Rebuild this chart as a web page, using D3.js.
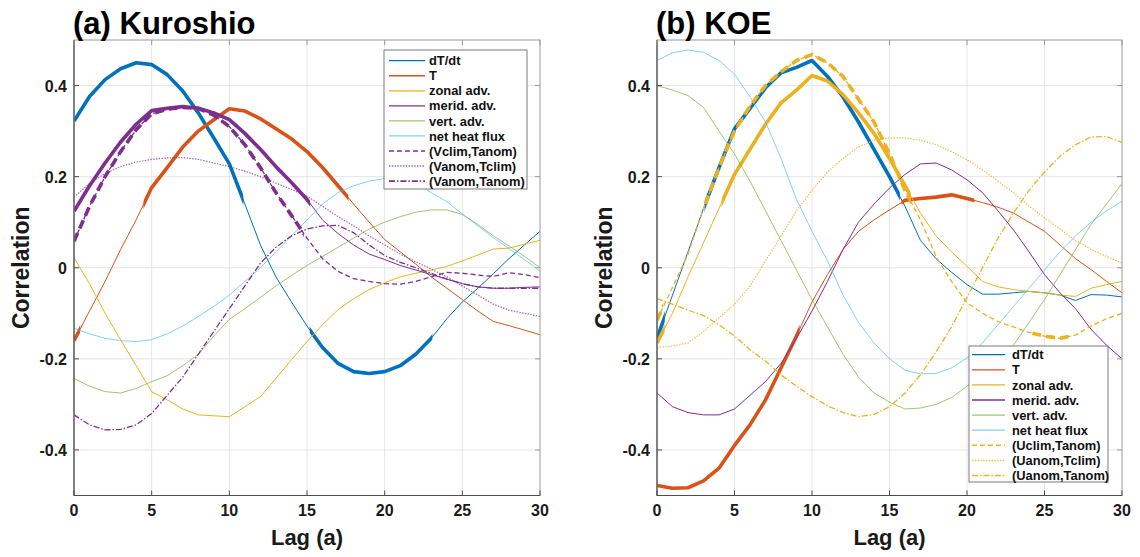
<!DOCTYPE html>
<html>
<head>
<meta charset="utf-8">
<script src="https://cdn.jsdelivr.net/npm/d3@7"></script>
<style>
  body { margin: 0; background: #fff; }
  svg { display: block; font-family: "Liberation Sans", Arial, Helvetica, sans-serif; }
</style>
</head>
<body>
<svg id="chart" width="1140" height="557"></svg>
<script>
// Lag axis (years)
const lags = [0,1,2,3,4,5,6,7,8,9,10,11,12,13,14,15,16,17,18,19,20,21,22,23,24,25,26,27,28,29,30];
const xTicks = [0, 5, 10, 15, 20, 25, 30];
const yTicks = [-0.4, -0.2, 0, 0.2, 0.4];

// (a) Kuroshio: lagged correlations
const kuroDTdt = [0.322,0.376,0.413,0.437,0.45,0.446,0.424,0.388,0.34,0.285,0.228,0.14,0.05,-0.02,-0.075,-0.128,-0.175,-0.21,-0.228,-0.232,-0.228,-0.215,-0.19,-0.155,-0.112,-0.075,-0.045,-0.013,0.02,0.05,0.08];
const kuroT = [-0.16,-0.095,-0.03,0.04,0.105,0.176,0.22,0.265,0.3,0.325,0.349,0.344,0.327,0.305,0.283,0.255,0.22,0.18,0.14,0.1,0.062,0.035,0.008,-0.02,-0.045,-0.07,-0.095,-0.118,-0.127,-0.137,-0.147];
const kuroZonal = [0.022,-0.035,-0.1,-0.158,-0.215,-0.272,-0.29,-0.31,-0.323,-0.325,-0.327,-0.305,-0.283,-0.243,-0.202,-0.162,-0.125,-0.092,-0.068,-0.048,-0.033,-0.02,-0.012,-0.005,0.003,0.015,0.028,0.041,0.043,0.052,0.06];
const kuroMerid = [0.124,0.18,0.23,0.276,0.315,0.345,0.35,0.354,0.35,0.34,0.325,0.295,0.26,0.222,0.187,0.15,0.105,0.075,0.05,0.03,0.018,0.005,-0.005,-0.015,-0.025,-0.035,-0.042,-0.045,-0.045,-0.043,-0.042];
const kuroVert = [-0.243,-0.26,-0.272,-0.275,-0.265,-0.25,-0.237,-0.215,-0.19,-0.15,-0.113,-0.09,-0.065,-0.04,-0.017,0.005,0.025,0.045,0.065,0.085,0.1,0.112,0.122,0.127,0.127,0.117,0.095,0.07,0.048,0.025,0.0];
const kuroHeat = [-0.133,-0.145,-0.155,-0.16,-0.162,-0.158,-0.145,-0.128,-0.107,-0.085,-0.06,-0.03,0.0,0.035,0.07,0.105,0.14,0.165,0.18,0.19,0.196,0.195,0.185,0.165,0.145,0.118,0.092,0.066,0.042,0.018,-0.008];
const kuroVclimTanom = [0.058,0.135,0.2,0.255,0.303,0.338,0.348,0.352,0.35,0.335,0.31,0.27,0.22,0.165,0.115,0.065,0.02,-0.008,-0.024,-0.03,-0.035,-0.036,-0.03,-0.02,-0.01,-0.012,-0.016,-0.019,-0.011,-0.015,-0.022];
const kuroVanomTclim = [0.155,0.185,0.207,0.222,0.232,0.238,0.241,0.242,0.238,0.23,0.222,0.212,0.2,0.186,0.172,0.157,0.135,0.112,0.092,0.07,0.05,0.03,0.013,-0.003,-0.02,-0.04,-0.06,-0.08,-0.093,-0.1,-0.107];
const kuroVanomTanom = [-0.323,-0.345,-0.356,-0.355,-0.345,-0.32,-0.28,-0.24,-0.19,-0.14,-0.09,-0.04,0.01,0.045,0.07,0.085,0.092,0.093,0.077,0.05,0.027,0.012,0.0,-0.012,-0.025,-0.035,-0.042,-0.045,-0.045,-0.045,-0.045];

// (b) KOE: lagged correlations
const koeDTdt = [-0.155,-0.06,0.035,0.13,0.22,0.305,0.35,0.395,0.428,0.44,0.455,0.42,0.375,0.32,0.26,0.2,0.135,0.06,0.02,-0.01,-0.037,-0.058,-0.058,-0.055,-0.052,-0.055,-0.06,-0.072,-0.059,-0.06,-0.064];
const koeT = [-0.478,-0.484,-0.483,-0.468,-0.44,-0.39,-0.345,-0.29,-0.22,-0.15,-0.075,-0.015,0.04,0.08,0.105,0.127,0.148,0.152,0.155,0.16,0.152,0.143,0.133,0.12,0.1,0.08,0.05,0.02,-0.004,-0.03,-0.055];
const koeZonal = [-0.165,-0.1,-0.02,0.055,0.13,0.205,0.26,0.315,0.362,0.39,0.422,0.41,0.38,0.34,0.295,0.24,0.18,0.12,0.07,0.035,0.003,-0.03,-0.042,-0.048,-0.052,-0.055,-0.06,-0.063,-0.045,-0.037,-0.03];
const koeMerid = [-0.275,-0.305,-0.318,-0.323,-0.323,-0.31,-0.28,-0.25,-0.21,-0.155,-0.095,-0.03,0.04,0.1,0.14,0.175,0.205,0.228,0.23,0.215,0.193,0.165,0.125,0.083,0.035,-0.015,-0.055,-0.09,-0.135,-0.17,-0.2];
const koeVert = [0.4,0.39,0.378,0.352,0.3,0.25,0.19,0.125,0.06,-0.005,-0.07,-0.13,-0.19,-0.24,-0.275,-0.295,-0.31,-0.308,-0.3,-0.285,-0.26,-0.235,-0.21,-0.17,-0.12,-0.07,-0.015,0.04,0.095,0.14,0.185];
const koeHeat = [0.455,0.472,0.478,0.473,0.455,0.425,0.375,0.32,0.24,0.15,0.08,0.015,-0.06,-0.12,-0.165,-0.2,-0.225,-0.233,-0.232,-0.22,-0.198,-0.165,-0.125,-0.085,-0.045,-0.005,0.035,0.07,0.1,0.125,0.146];
const koeUclimTanom = [-0.115,-0.043,0.03,0.13,0.22,0.3,0.355,0.4,0.43,0.455,0.468,0.45,0.42,0.37,0.32,0.25,0.17,0.105,0.025,-0.03,-0.077,-0.1,-0.118,-0.13,-0.142,-0.15,-0.155,-0.148,-0.128,-0.112,-0.1];
const koeUanomTclim = [-0.175,-0.172,-0.165,-0.14,-0.11,-0.08,-0.04,0.015,0.07,0.125,0.17,0.21,0.24,0.265,0.28,0.285,0.285,0.28,0.27,0.255,0.237,0.215,0.19,0.165,0.135,0.11,0.085,0.06,0.04,0.025,0.01];
const koeUanomTanom = [-0.068,-0.08,-0.093,-0.105,-0.125,-0.15,-0.18,-0.205,-0.235,-0.26,-0.283,-0.303,-0.318,-0.327,-0.322,-0.305,-0.275,-0.235,-0.185,-0.13,-0.065,0.0,0.065,0.12,0.17,0.21,0.245,0.27,0.287,0.288,0.275];

// Lag ranges where a correlation is significant (drawn bold)
const kuroSigDTdt = [[0, 10.9], [15.3, 23.2]];
const kuroSigT = [[0, 0.4], [4.6, 17.8]];
const kuroSigMerid = [[0, 15.2]];
const kuroSigVclimTanom = [[0, 14.8]];
const koeSigDTdt = [[0, 0.5], [3.2, 15.8]];
const koeSigT = [[0, 9.2], [15.9, 20.6]];
const koeSigZonal = [[0, 0.5], [4.3, 16.5]];
const koeSigUclimTanom = [[0, 0.4], [3.2, 16.5], [24.3, 27]];

const kuroNames = ["dT/dt", "T", "zonal adv.", "merid. adv.", "vert. adv.", "net heat flux", "(Vclim,Tanom)", "(Vanom,Tclim)", "(Vanom,Tanom)"];
const koeNames = ["dT/dt", "T", "zonal adv.", "merid. adv.", "vert. adv.", "net heat flux", "(Uclim,Tanom)", "(Uanom,Tclim)", "(Uanom,Tanom)"];

const C = {
  blue: "#0072BD", orange: "#D95319", yellow: "#EDB120",
  purple: "#7E2F8E", green: "#77AC30", cyan: "#4DBEEE"
};
const DASH = { solid: null, dashed: "5,3", dotted: "1.4,1.4", dashdot: "6,2,1.4,2" };
const DASH_BOLD = { solid: null, dashed: "9,5", dotted: "2,2", dashdot: "9,3,2,3" };

const svg = d3.select("#chart");
const defs = svg.append("defs");
let clipId = 0;

function panel(opts) {
  const x = d3.scaleLinear().domain([0, 30]).range([opts.left, opts.right]);
  const y = d3.scaleLinear().domain([-0.5, 0.5]).range([495.5, 40]);
  const g = svg.append("g");

  // grid
  g.append("g").selectAll("line").data(xTicks.slice(1, -1)).join("line")
    .attr("x1", d => x(d)).attr("x2", d => x(d))
    .attr("y1", y(-0.5)).attr("y2", y(0.5))
    .attr("stroke", "#e6e6e6").attr("stroke-width", 1);
  g.append("g").selectAll("line").data(yTicks).join("line")
    .attr("x1", x(0)).attr("x2", x(30))
    .attr("y1", d => y(d)).attr("y2", d => y(d))
    .attr("stroke", "#e6e6e6").attr("stroke-width", 1);

  // plot clip
  const pid = "plotclip" + (clipId++);
  defs.append("clipPath").attr("id", pid).append("rect")
    .attr("x", x(0)).attr("y", y(0.5)).attr("width", x(30) - x(0)).attr("height", y(-0.5) - y(0.5));

  const lineGen = d3.line().x((d, i) => x(lags[i])).y(d => y(d));
  const plot = g.append("g").attr("clip-path", `url(#${pid})`);

  opts.series.forEach(s => {
    plot.append("path").datum(s.values)
      .attr("d", lineGen).attr("fill", "none")
      .attr("stroke", s.color).attr("stroke-width", s.width || 1)
      .attr("stroke-opacity", s.opacity || 1)
      .attr("stroke-dasharray", DASH[s.dash])
      .attr("stroke-linejoin", "round");
    (s.sig || []).forEach(r => {
      const id = "sig" + (clipId++);
      defs.append("clipPath").attr("id", id).append("rect")
        .attr("x", x(r[0]) - 2).attr("y", 0)
        .attr("width", x(r[1]) - x(r[0]) + (r[0] === 0 ? 2 : 0)).attr("height", 557);
      plot.append("g").attr("clip-path", `url(#${id})`)
        .append("path").datum(s.values)
        .attr("d", lineGen).attr("fill", "none")
        .attr("stroke", s.color).attr("stroke-width", 3.6)
        .attr("stroke-dasharray", DASH_BOLD[s.dash])
        .attr("stroke-linejoin", "round");
    });
  });

  // axes box and ticks
  const axisColor = "#4d4d4d";
  g.append("rect").attr("x", x(0)).attr("y", y(0.5))
    .attr("width", x(30) - x(0)).attr("height", y(-0.5) - y(0.5))
    .attr("fill", "none").attr("stroke", "#9a9a9a").attr("stroke-width", 1);
  g.append("line").attr("x1", x(0)).attr("x2", x(30)).attr("y1", y(-0.5)).attr("y2", y(-0.5))
    .attr("stroke", axisColor).attr("stroke-width", 1.2);
  g.append("line").attr("x1", x(0)).attr("x2", x(0)).attr("y1", y(-0.5)).attr("y2", y(0.5))
    .attr("stroke", axisColor).attr("stroke-width", 1.2);

  const tl = 5;
  g.append("g").selectAll("line").data(xTicks).join("line")
    .attr("x1", d => x(d)).attr("x2", d => x(d))
    .attr("y1", y(-0.5)).attr("y2", y(-0.5) - tl).attr("stroke", axisColor);
  g.append("g").selectAll("line").data(xTicks).join("line")
    .attr("x1", d => x(d)).attr("x2", d => x(d))
    .attr("y1", y(0.5)).attr("y2", y(0.5) + tl).attr("stroke", "#9a9a9a");
  g.append("g").selectAll("line").data(yTicks).join("line")
    .attr("x1", x(0)).attr("x2", x(0) + tl)
    .attr("y1", d => y(d)).attr("y2", d => y(d)).attr("stroke", axisColor);
  g.append("g").selectAll("line").data(yTicks).join("line")
    .attr("x1", x(30)).attr("x2", x(30) - tl)
    .attr("y1", d => y(d)).attr("y2", d => y(d)).attr("stroke", "#9a9a9a");

  // tick labels (plain hyphen for negatives)
  g.append("g").selectAll("text").data(xTicks).join("text")
    .attr("x", d => x(d)).attr("y", 516)
    .attr("text-anchor", "middle").attr("font-size", 16).attr("font-weight", "bold")
    .attr("fill", "#1a1a1a").text(d => String(d));
  g.append("g").selectAll("text").data(yTicks).join("text")
    .attr("x", x(0) - 7).attr("y", d => y(d) + 6)
    .attr("text-anchor", "end").attr("font-size", 16).attr("font-weight", "bold")
    .attr("fill", "#1a1a1a").text(d => String(d));

  // axis titles
  g.append("text").attr("x", (x(0) + x(30)) / 2).attr("y", 545)
    .attr("text-anchor", "middle").attr("font-size", 22).attr("font-weight", "bold")
    .attr("fill", "#1a1a1a").text("Lag (a)");
  g.append("text")
    .attr("transform", `translate(${opts.left - 45},${(y(0.5) + y(-0.5)) / 2}) rotate(-90)`)
    .attr("text-anchor", "middle").attr("font-size", 23).attr("font-weight", "bold")
    .attr("fill", "#1a1a1a").text("Correlation");

  // panel title
  g.append("text").attr("x", opts.left - 1).attr("y", 34)
    .attr("font-size", 31).attr("font-weight", "bold").attr("fill", "#000")
    .text(opts.title);

  // legend
  const L = opts.legend;
  const lg = g.append("g");
  lg.append("rect").attr("x", L.x).attr("y", L.y).attr("width", L.w).attr("height", L.h)
    .attr("fill", "#fff").attr("stroke", "#6e6e6e").attr("stroke-width", 0.9);
  opts.series.forEach((s, i) => {
    const yy = L.y + L.first + i * L.step;
    lg.append("line").attr("x1", L.x + L.lx0).attr("x2", L.x + L.lx1)
      .attr("y1", yy).attr("y2", yy)
      .attr("stroke", s.color).attr("stroke-width", (s.width || 1) + 0.3)
      .attr("stroke-opacity", s.opacity || 1)
      .attr("stroke-dasharray", DASH[s.dash]);
    lg.append("text").attr("x", L.x + L.tx).attr("y", yy + 4.6)
      .attr("font-size", 12.9).attr("font-weight", "bold").attr("fill", "#111")
      .text(opts.names[i]);
  });
}

panel({
  title: "(a) Kuroshio", left: 74, right: 540, names: kuroNames,
  legend: { x: 384, y: 50, w: 143, h: 139, first: 10.7, step: 15.05, lx0: 5, lx1: 41, tx: 45 },
  series: [
    { values: kuroDTdt, color: C.blue, dash: "solid", sig: kuroSigDTdt },
    { values: kuroT, color: C.orange, dash: "solid", sig: kuroSigT },
    { values: kuroZonal, color: C.yellow, dash: "solid" },
    { values: kuroMerid, color: C.purple, dash: "solid", sig: kuroSigMerid },
    { values: kuroVert, color: C.green, dash: "solid", opacity: 0.7 },
    { values: kuroHeat, color: C.cyan, dash: "solid", opacity: 0.7 },
    { values: kuroVclimTanom, color: C.purple, dash: "dashed", width: 1.3, sig: kuroSigVclimTanom },
    { values: kuroVanomTclim, color: C.purple, dash: "dotted", width: 1.2, opacity: 0.75 },
    { values: kuroVanomTanom, color: C.purple, dash: "dashdot", width: 1.3 }
  ]
});

panel({
  title: "(b) KOE", left: 657, right: 1122, names: koeNames,
  legend: { x: 969, y: 346, w: 139, h: 136, first: 8.7, step: 15.1, lx0: 3, lx1: 36, tx: 43 },
  series: [
    { values: koeDTdt, color: C.blue, dash: "solid", sig: koeSigDTdt },
    { values: koeT, color: C.orange, dash: "solid", sig: koeSigT },
    { values: koeZonal, color: C.yellow, dash: "solid", sig: koeSigZonal },
    { values: koeMerid, color: C.purple, dash: "solid" },
    { values: koeVert, color: C.green, dash: "solid", opacity: 0.7 },
    { values: koeHeat, color: C.cyan, dash: "solid", opacity: 0.7 },
    { values: koeUclimTanom, color: C.yellow, dash: "dashed", width: 1.3, sig: koeSigUclimTanom },
    { values: koeUanomTclim, color: C.yellow, dash: "dotted", width: 1.2, opacity: 0.85 },
    { values: koeUanomTanom, color: C.yellow, dash: "dashdot", width: 1.3 }
  ]
});
</script>
</body>
</html>
